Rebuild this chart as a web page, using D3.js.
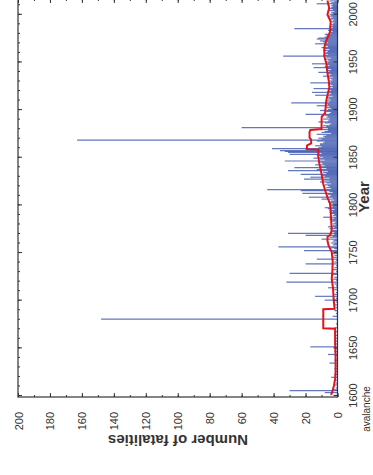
<!DOCTYPE html>
<html>
<head>
<meta charset="utf-8">
<script src="https://cdn.jsdelivr.net/npm/d3@7"></script>
<style>
  html, body { margin: 0; padding: 0; background: #fff; }
  svg { display: block; font-family: "Liberation Sans", Arial, sans-serif; }
</style>
</head>
<body>
<div id="chart"></div>
<script>
// avalanche fatalities per year, one row per decade, starting 1600
const firstYear = 1600;
const fatalities = [
  2, 0, 0, 8, 0, 30, 3, 0, 1, 0,      // 1600s
  0, 2, 0, 1, 0, 0, 2, 0, 0, 4,       // 1610s
  0, 0, 2, 0, 0, 1, 0, 0, 2, 0,       // 1620s
  0, 1, 0, 0, 5, 0, 0, 2, 0, 0,       // 1630s
  0, 0, 1, 6, 0, 0, 2, 0, 0, 1,       // 1640s
  0, 17, 0, 0, 2, 0, 0, 1, 0, 0,      // 1650s
  1, 0, 0, 2, 0, 0, 0, 1, 0, 0,       // 1660s
  0, 2, 0, 0, 0, 1, 0, 0, 0, 0,       // 1670s
  148, 0, 0, 3, 0, 0, 1, 0, 0, 2,     // 1680s
  0, 0, 1, 0, 0, 2, 0, 0, 1, 0,       // 1690s
  8, 0, 1, 0, 14, 0, 2, 0, 1, 0,      // 1700s
  0, 2, 0, 6, 0, 1, 0, 2, 0, 32,      // 1710s
  0, 1, 3, 0, 2, 0, 0, 4, 30, 0,      // 1720s
  1, 0, 3, 0, 2, 0, 1, 0, 20, 0,      // 1730s
  2, 0, 1, 13, 0, 3, 0, 2, 0, 4,      // 1740s
  0, 3, 21, 0, 2, 4, 37, 0, 3, 2,     // 1750s
  4, 0, 3, 2, 10, 0, 5, 3, 20, 2,     // 1760s
  31, 2, 4, 3, 0, 5, 2, 6, 3, 1,      // 1770s
  3, 2, 1, 4, 3, 5, 2, 9, 1, 3,       // 1780s
  2, 4, 5, 3, 5, 2, 6, 8, 3, 4,       // 1790s
  5, 3, 4, 6, 4, 2, 10, 3, 18, 5,     // 1800s
  4, 6, 22, 3, 5, 23, 44, 4, 7, 5,    // 1810s
  6, 8, 4, 7, 11, 5, 9, 21, 5, 17,    // 1820s
  8, 10, 23, 7, 9, 6, 31, 13, 7, 27,  // 1830s
  11, 8, 14, 9, 10, 12, 33, 8, 11, 15, // 1840s
  9, 11, 13, 30, 10, 31, 33, 36, 13, 41, // 1850s
  12, 10, 14, 11, 11, 9, 8, 13, 163, 10, // 1860s
  12, 8, 9, 7, 13, 4, 10, 8, 6, 11,   // 1870s
  6, 60, 7, 9, 5, 4, 8, 12, 6, 5,     // 1880s
  9, 5, 7, 6, 8, 20, 5, 4, 7, 11,     // 1890s
  6, 4, 7, 5, 13, 6, 8, 29, 5, 7,     // 1900s
  4, 6, 5, 7, 3, 14, 5, 4, 16, 6,     // 1910s
  4, 6, 15, 3, 5, 3, 4, 6, 17, 4,     // 1920s
  5, 3, 4, 6, 3, 9, 5, 4, 6, 12,      // 1930s
  5, 7, 4, 6, 15, 8, 5, 7, 16, 6,     // 1940s
  7, 5, 6, 8, 4, 7, 34, 9, 6, 8,      // 1950s
  7, 6, 9, 5, 8, 10, 6, 7, 8, 14,     // 1960s
  6, 9, 11, 7, 13, 12, 8, 6, 7, 8,    // 1970s
  4, 5, 3, 6, 4, 27, 3, 5, 3, 4,      // 1980s
  3, 2, 4, 3, 2, 5, 4, 3, 6, 4,       // 1990s
  5, 3, 4, 2, 6, 3, 5, 4, 3, 4,       // 2000s
  3, 13, 4, 2, 5                      // 2010s
];

// running mean (red line)
const avgYears = [1600, 1605, 1610, 1618, 1625, 1640, 1655, 1669.5, 1670, 1690, 1690.5, 1700,
  1712, 1722, 1730, 1740, 1750, 1757, 1762, 1766, 1768, 1773, 1787, 1795, 1801, 1806,
  1813, 1822, 1832, 1843, 1850, 1857.5, 1858, 1862, 1864, 1868, 1870, 1876, 1878, 1879,
  1892, 1895.6, 1909, 1923, 1930, 1937, 1948, 1955, 1965, 1972, 1981, 1992, 1999, 2006, 2014];
const avgValues = [4, 3, 2.2, 1.4, 1.2, 1.2, 1.5, 1.5, 8.9, 8.9, 1.8, 2.4,
  2.8, 3.6, 3.2, 3, 3.6, 5.6, 6.3, 6.2, 4.5, 3.6, 4.1, 4.3, 4.7, 6,
  7.4, 9, 10, 11.4, 12, 12, 19.3, 19, 16.5, 16.5, 17.5, 17.5, 17, 10,
  9.9, 7.8, 7, 5.1, 5.5, 6.2, 7, 8.2, 8.2, 7, 4.7, 4.3, 6.3, 5.2, 6.3];

const fatalityTicks = [0, 20, 40, 60, 80, 100, 120, 140, 160, 180, 200];
const yearTicks = [1600, 1650, 1700, 1750, 1800, 1850, 1900, 1950, 2000];

const width = 373, height = 475;
const frame = { left: 18, right: 337.5, top: -1, bottom: 397 };

const svg = d3.select('#chart').append('svg')
    .attr('width', width)
    .attr('height', height);

// fatalities run right-to-left along the bottom, years run bottom-to-top on the right
const x = d3.scaleLinear().domain([0, 200]).range([frame.right, frame.left]);
const y = d3.scaleLinear().domain([1600, 2000]).range([395, 13.8]);

const series = fatalities.map((v, i) => ({ year: firstYear + i, value: v }));

// spikes
svg.append('g')
    .selectAll('line')
    .data(series.filter(d => d.value > 0))
    .join('line')
    .attr('x1', x(0))
    .attr('x2', d => x(d.value))
    .attr('y1', d => y(d.year) + 0.45)
    .attr('y2', d => y(d.year) + 0.45)
    .attr('stroke', '#2d4aa8')
    .attr('stroke-opacity', 0.75)
    .attr('stroke-width', 1.2);

// running mean
const line = d3.line()
    .x(d => x(d[1]))
    .y(d => y(d[0]));
svg.append('path')
    .datum(avgYears.map((yr, i) => [yr, avgValues[i]]))
    .attr('d', line)
    .attr('fill', 'none')
    .attr('stroke', '#e3141b')
    .attr('stroke-width', 2);

// frame
svg.append('rect')
    .attr('x', frame.left)
    .attr('y', frame.top)
    .attr('width', frame.right - frame.left)
    .attr('height', frame.bottom - frame.top)
    .attr('fill', 'none')
    .attr('stroke', '#333')
    .attr('stroke-width', 1.2);

const minorF = d3.range(0, 201, 10);
const minorY = d3.range(1600, 2011, 10);

function styleAxis(g) {
    g.select('.domain').remove();
    g.selectAll('.tick line').attr('stroke', '#333');
}

// bottom: fatalities axis
svg.append('g')
    .attr('transform', `translate(0,${frame.bottom})`)
    .call(d3.axisBottom(x).tickValues(minorF).tickSize(-2).tickFormat(''))
    .call(styleAxis);
const bottomAxis = svg.append('g')
    .attr('transform', `translate(0,${frame.bottom})`)
    .call(d3.axisBottom(x).tickValues(fatalityTicks).tickSize(-4))
    .call(styleAxis);
bottomAxis.selectAll('.tick text')
    .attr('x', null).attr('y', null).attr('dy', null)
    .attr('text-anchor', 'end')
    .attr('transform', 'translate(4,15) rotate(-90)')
    .attr('font-size', 11)
    .attr('font-family', '"Liberation Sans", Arial, sans-serif')
    .attr('fill', '#333');

// top frame ticks
svg.append('g')
    .attr('transform', `translate(0,${frame.top})`)
    .call(d3.axisTop(x).tickValues(minorF).tickSize(-2).tickFormat(''))
    .call(styleAxis);
svg.append('g')
    .attr('transform', `translate(0,${frame.top})`)
    .call(d3.axisTop(x).tickValues(fatalityTicks).tickSize(-4).tickFormat(''))
    .call(styleAxis);

// left frame ticks
svg.append('g')
    .attr('transform', `translate(${frame.left},0)`)
    .call(d3.axisLeft(y).tickValues(minorY).tickSize(-2).tickFormat(''))
    .call(styleAxis);
svg.append('g')
    .attr('transform', `translate(${frame.left},0)`)
    .call(d3.axisLeft(y).tickValues(yearTicks).tickSize(-4).tickFormat(''))
    .call(styleAxis);

// right: year axis
const rightAxis = svg.append('g')
    .attr('transform', `translate(${frame.right},0)`)
    .call(d3.axisRight(y).tickValues(yearTicks).tickSize(-4).tickFormat(d3.format('d')))
    .call(styleAxis);
rightAxis.selectAll('.tick text')
    .attr('x', null).attr('y', null).attr('dy', null)
    .attr('text-anchor', 'middle')
    .attr('transform', 'translate(19.5,0) rotate(-90)')
    .attr('font-size', 11)
    .attr('font-family', '"Liberation Sans", Arial, sans-serif')
    .attr('fill', '#333');

// titles
svg.append('text')
    .attr('transform', 'translate(178,435) rotate(180)')
    .attr('text-anchor', 'middle')
    .attr('font-size', 15)
    .attr('font-weight', 'bold')
    .attr('fill', '#333')
    .text('Number of fatalities');

svg.append('text')
    .attr('transform', 'translate(369,197) rotate(-90)')
    .attr('text-anchor', 'middle')
    .attr('font-size', 15)
    .attr('font-weight', 'bold')
    .attr('fill', '#333')
    .text('Year');

svg.append('text')
    .attr('transform', 'translate(370,409) rotate(-90)')
    .attr('text-anchor', 'middle')
    .attr('font-size', 10)
    .attr('fill', '#333')
    .text('avalanche');
</script>
</body>
</html>
